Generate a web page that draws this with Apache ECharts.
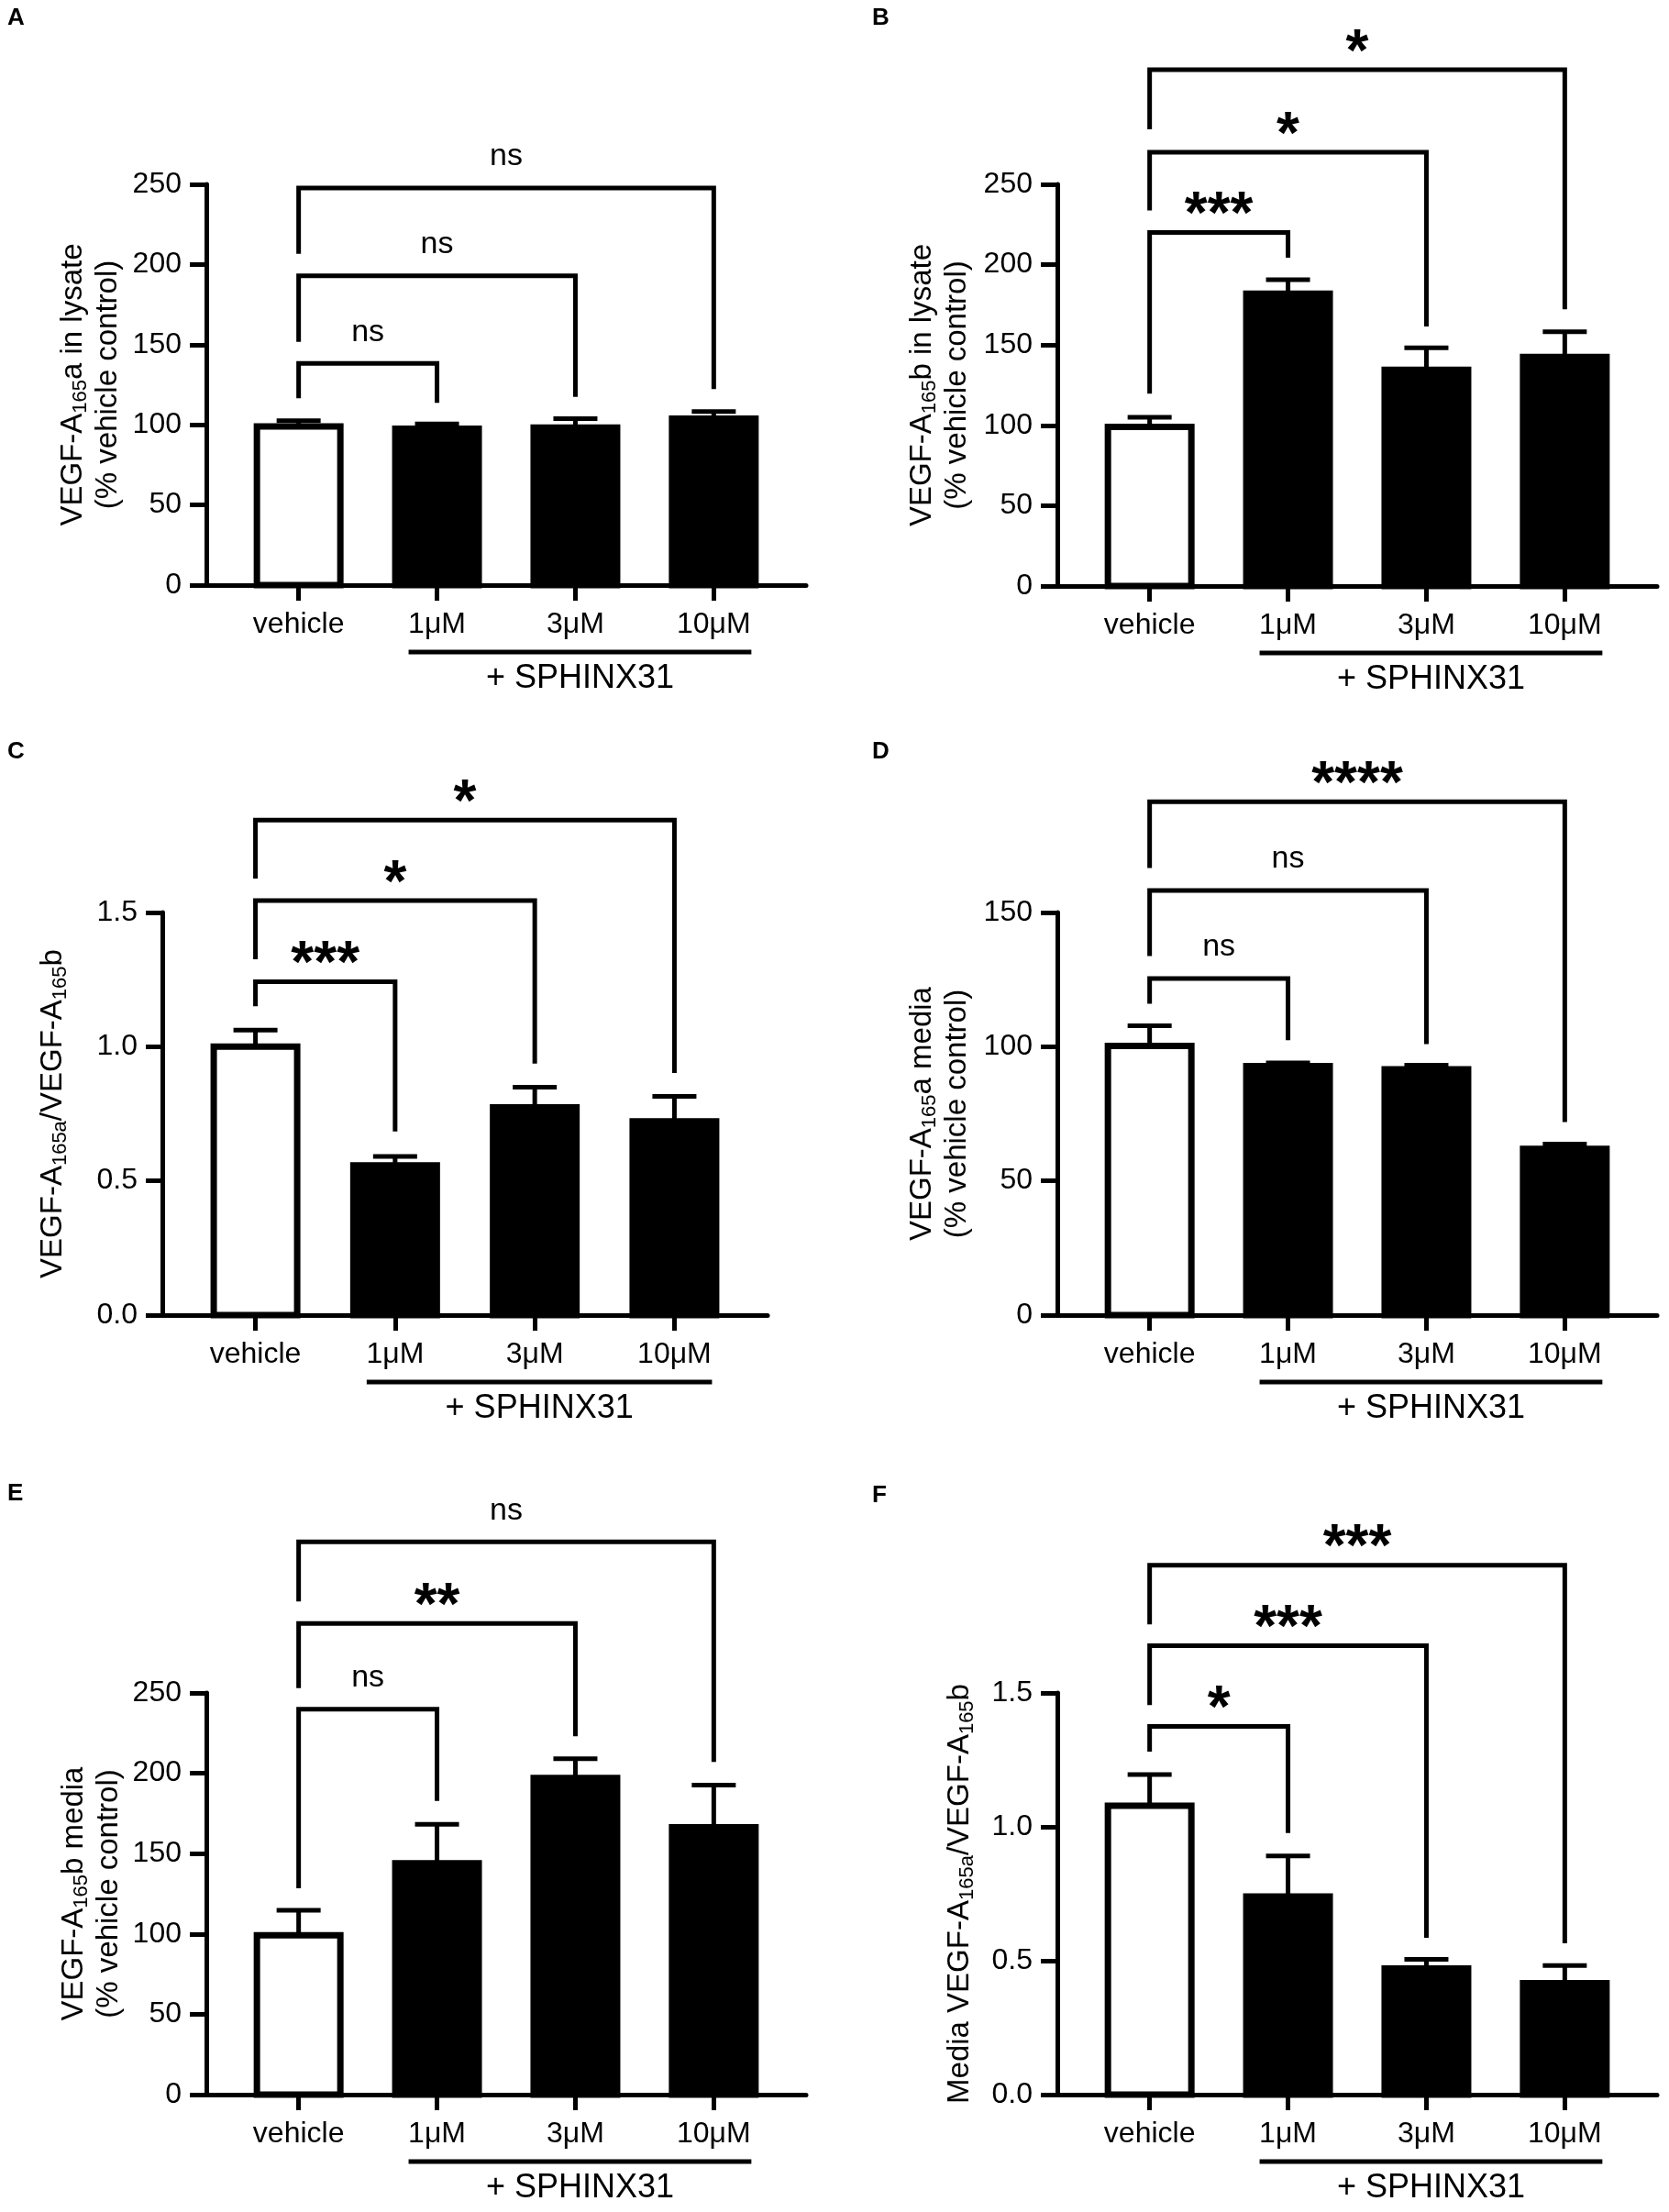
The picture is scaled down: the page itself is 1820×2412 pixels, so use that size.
<!DOCTYPE html>
<html>
<head>
<meta charset="utf-8">
<script src="https://cdn.jsdelivr.net/npm/echarts@6/dist/echarts.min.js"></script>
<style>
html, body { margin: 0; padding: 0; background: #fff; }
#chart { width: 1820px; height: 2412px; }
</style>
</head>
<body>
<div id="chart"></div>
<script>
var FONT = '"Liberation Sans", Arial, Helvetica, sans-serif';

// groups on the x axis
var categories = ['vehicle', '1μM', '3μM', '10μM'];
var treated = [1, 3]; // groups under the "+ SPHINX31" line

// A - VEGF-A165a in lysate
var aMean = [99, 97.5, 98.3, 103.8];
var aErr = [3.6, 3.1, 5.5, 4.5];
var aBracketTop = [138.3, 193, 247.7];
var aLeftEnd = [116.6, 151.7, 206.7];
var aRightEnd = [113.7, 117.4, 122.3];
var aSig = ['ns', 'ns', 'ns'];

// B - VEGF-A165b in lysate
var bMean = [99, 182, 134.5, 142.5];
var bErr = [6, 8.7, 13.7, 15.7];
var bBracketTop = [220, 270, 321.3];
var bLeftEnd = [119.7, 233.8, 284.2];
var bRightEnd = [204.4, 161.6, 172.2];
var bSig = ['***', '*', '*'];

// C - ratio in lysate
var cMean = [1.0, 0.558, 0.774, 0.722];
var cErr = [0.062, 0.033, 0.075, 0.093];
var cBracketTop = [1.242, 1.544, 1.844];
var cLeftEnd = [1.151, 1.326, 1.626];
var cRightEnd = [0.684, 0.937, 0.902];
var cSig = ['***', '*', '*'];

// D - VEGF-A165a media
var dMean = [100.3, 92.8, 91.6, 61.9];
var dErr = [7.5, 1.2, 1.5, 1.8];
var dBracketTop = [125.4, 158.2, 191.3];
var dLeftEnd = [116, 133.8, 166.6];
var dRightEnd = [102.4, 101, 71.9];
var dSig = ['ns', 'ns', '****'];

// E - VEGF-A165b media
var eMean = [99.2, 144, 197.1, 166.4];
var eErr = [15.5, 24.2, 12, 26.3];
var eBracketTop = [239.8, 293.3, 344.1];
var eLeftEnd = [128.4, 253, 307];
var eRightEnd = [182.8, 223.1, 207];
var eSig = ['ns', '**', 'ns'];

// F - ratio in media
var fMean = [1.079, 0.740, 0.471, 0.416];
var fErr = [0.116, 0.151, 0.034, 0.066];
var fBracketTop = [1.375, 1.676, 1.977];
var fLeftEnd = [1.281, 1.455, 1.756];
var fRightEnd = [0.977, 0.586, 0.565];
var fSig = ['*', '***', '***'];

var panels = [
	{ letter: 'A', lx: 8, ly: 7, mean: aMean, err: aErr, top: aBracketTop, le: aLeftEnd, re: aRightEnd, sig: aSig,
		yMax: 250, yStep: 50, dec: 0, gap: 88, grid: { left: 225, top: 201, width: 654, height: 437 },
		title: 'VEGF-A{s|165}a in lysate\n(% vehicle control)' },
	{ letter: 'B', lx: 951, ly: 7, mean: bMean, err: bErr, top: bBracketTop, le: bLeftEnd, re: bRightEnd, sig: bSig,
		yMax: 250, yStep: 50, dec: 0, gap: 90, grid: { left: 1153, top: 201, width: 654, height: 438 },
		title: 'VEGF-A{s|165}b in lysate\n(% vehicle control)' },
	{ letter: 'C', lx: 8, ly: 807, mean: cMean, err: cErr, top: cBracketTop, le: cLeftEnd, re: cRightEnd, sig: cSig,
		yMax: 1.5, yStep: 0.5, dec: 1, gap: 100, grid: { left: 177, top: 995, width: 660, height: 439 },
		title: 'VEGF-A{s|165a}/VEGF-A{s|165}b' },
	{ letter: 'D', lx: 951, ly: 807, mean: dMean, err: dErr, top: dBracketTop, le: dLeftEnd, re: dRightEnd, sig: dSig,
		yMax: 150, yStep: 50, dec: 0, gap: 90, grid: { left: 1153, top: 995, width: 654, height: 439 },
		title: 'VEGF-A{s|165}a media\n(% vehicle control)' },
	{ letter: 'E', lx: 8, ly: 1616, mean: eMean, err: eErr, top: eBracketTop, le: eLeftEnd, re: eRightEnd, sig: eSig,
		yMax: 250, yStep: 50, dec: 0, gap: 87, grid: { left: 225, top: 1846, width: 654, height: 438 },
		title: 'VEGF-A{s|165}b media\n(% vehicle control)' },
	{ letter: 'F', lx: 951, ly: 1618, mean: fMean, err: fErr, top: fBracketTop, le: fLeftEnd, re: fRightEnd, sig: fSig,
		yMax: 1.5, yStep: 0.5, dec: 1, gap: 87, grid: { left: 1153, top: 1846, width: 654, height: 438 },
		title: 'Media VEGF-A{s|165a}/VEGF-A{s|165}b' }
];

var PAD = 0.667; // axis runs past the outer bars
var LW = 5;

function barItem(params, api) {
	var i = api.value(0), m = api.value(1), e = api.value(2);
	var base = api.coord([i, 0]);
	var top = api.coord([i, m]);
	var et = api.coord([i, m + e]);
	var hw = 45.5;
	return {
		type: 'group',
		children: [{
			type: 'rect',
			shape: { x: base[0] - hw, y: top[1], width: hw * 2, height: base[1] - top[1] },
			style: { fill: i === 0 ? '#fff' : '#000', stroke: '#000', lineWidth: 7 }
		}, {
			type: 'line',
			shape: { x1: top[0], y1: top[1], x2: et[0], y2: et[1] },
			style: { stroke: '#000', lineWidth: LW }
		}, {
			type: 'line',
			shape: { x1: et[0] - 24, y1: et[1], x2: et[0] + 24, y2: et[1] },
			style: { stroke: '#000', lineWidth: LW }
		}]
	};
}

function bracketItem(p) {
	return function(params, api) {
		var t = api.value(0), top = api.value(1);
		var a = api.coord([0, top]);
		var b = api.coord([t, top]);
		var al = api.coord([0, api.value(2)]);
		var br = api.coord([t, api.value(3)]);
		var lab = p.sig[params.dataIndex];
		var ns = lab === 'ns';
		return {
			type: 'group',
			children: [{
				type: 'polyline',
				shape: { points: [[a[0], al[1]], [a[0], a[1]], [b[0], b[1]], [b[0], br[1]]] },
				style: { stroke: '#000', lineWidth: LW, fill: 'none', lineJoin: 'miter' }
			}, {
				type: 'text',
				x: (a[0] + b[0]) / 2,
				y: a[1] - (ns ? 34 : 17),
				style: {
					text: lab, fill: '#000', fontFamily: FONT,
					fontSize: ns ? 34 : 64, fontWeight: ns ? 'normal' : 'bold',
					align: 'center', verticalAlign: 'middle'
				}
			}]
		};
	};
}

function treatItem(params, api) {
	var a = api.coord([api.value(0), 0]);
	var b = api.coord([api.value(1), 0]);
	var x1 = a[0] - 31, x2 = b[0] + 41;
	return {
		type: 'group',
		children: [{
			type: 'line',
			shape: { x1: x1, y1: a[1] + 73, x2: x2, y2: a[1] + 73 },
			style: { stroke: '#000', lineWidth: LW }
		}, {
			type: 'text',
			x: (x1 + x2) / 2,
			y: a[1] + 102,
			style: { text: '+ SPHINX31', fill: '#000', fontFamily: FONT, fontSize: 36, align: 'center', verticalAlign: 'middle' }
		}]
	};
}

var grids = [], xAxes = [], yAxes = [], series = [], graphics = [];

panels.forEach(function(p, k) {
	grids.push(p.grid);
	xAxes.push({
		gridIndex: k,
		type: 'value',
		min: -PAD,
		max: 3 + PAD,
		splitLine: { show: false },
		axisLine: { show: true, onZero: false, lineStyle: { color: '#000', width: LW } },
		axisTick: { show: true, customValues: [0, 1, 2, 3], length: 17, lineStyle: { color: '#000', width: LW } },
		axisLabel: {
			customValues: [0, 1, 2, 3],
			margin: 27,
			color: '#000',
			fontSize: 32,
			fontFamily: FONT,
			formatter: function(v) { return categories[Math.round(v)]; }
		}
	});
	yAxes.push({
		gridIndex: k,
		type: 'value',
		min: 0,
		max: p.yMax,
		interval: p.yStep,
		splitLine: { show: false },
		axisLine: { show: true, onZero: false, lineStyle: { color: '#000', width: LW } },
		axisTick: { show: true, length: 18, lineStyle: { color: '#000', width: LW } },
		axisLabel: {
			margin: 27,
			color: '#000',
			fontSize: 32,
			fontFamily: FONT,
			formatter: function(v) { return v.toFixed(p.dec); }
		},
		name: p.title,
		nameLocation: 'middle',
		nameGap: p.gap,
		nameTextStyle: {
			color: '#000',
			fontSize: 33,
			fontFamily: FONT,
			lineHeight: 38,
			rich: {
				s: { fontSize: 22, lineHeight: 22, verticalAlign: 'bottom', color: '#000', fontFamily: FONT }
			}
		}
	});
	series.push({
		type: 'custom',
		xAxisIndex: k,
		yAxisIndex: k,
		clip: false,
		renderItem: barItem,
		data: p.mean.map(function(m, i) { return [i, m, p.err[i]]; })
	});
	series.push({
		type: 'custom',
		xAxisIndex: k,
		yAxisIndex: k,
		clip: false,
		renderItem: bracketItem(p),
		data: p.top.map(function(t, j) { return [j + 1, t, p.le[j], p.re[j]]; })
	});
	series.push({
		type: 'custom',
		xAxisIndex: k,
		yAxisIndex: k,
		clip: false,
		renderItem: treatItem,
		data: [[treated[0], treated[1]]]
	});
	graphics.push({
		type: 'text',
		left: p.lx,
		top: p.ly,
		style: { text: p.letter, fill: '#000', font: 'bold 26px ' + FONT }
	});
});

var myChart = echarts.init(document.getElementById('chart'));
myChart.setOption({
	backgroundColor: '#fff',
	animation: false,
	grid: grids,
	xAxis: xAxes,
	yAxis: yAxes,
	series: series,
	graphic: graphics
});
</script>
</body>
</html>
